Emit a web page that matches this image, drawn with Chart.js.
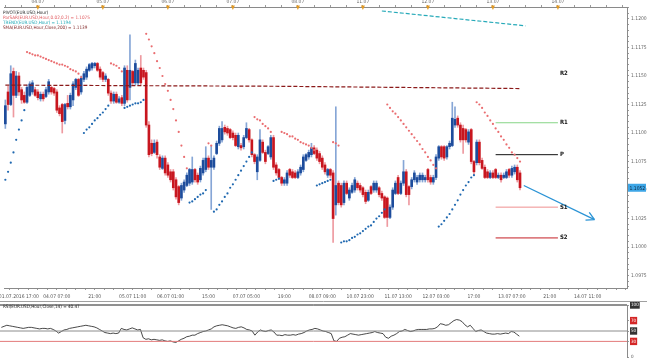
<!DOCTYPE html>
<html>
<head>
<meta charset="utf-8">
<script src="https://cdn.jsdelivr.net/npm/chart.js@4.4.1/dist/chart.umd.min.js"></script>
<style>
  html, body { margin: 0; padding: 0; background: #fff; }
  #wrap { position: relative; width: 647px; height: 360px; overflow: hidden; }
  #priceChart { position: absolute; left: 0; top: 0; }
  #rsiChart { position: absolute; left: 0; top: 300px; }
</style>
</head>
<body>
<div id="wrap">
  <canvas id="priceChart" width="647" height="300"></canvas>
  <canvas id="rsiChart" width="647" height="60"></canvas>
</div>
<script>
// EUR/USD hourly candles, 01.07.2016 12:00 onwards (bar index = hour slot)
const opens = [
  1.1108,1.1136,1.1125,1.1154,1.1133,1.1150,1.1138,1.1133,1.1127,1.1133,
  1.1136,1.1138,1.1136,1.1130,1.1134,1.1132,1.1136,1.1140,1.1139,1.1136,
  1.1122,1.1125,1.1111,1.1126,1.1123,1.1129,1.1140,1.1147,1.1136,1.1147,
  1.1149,1.1155,1.1157,1.1159,1.1161,1.1156,1.1153,1.1147,1.1147,1.1135,
  1.1128,1.1134,1.1127,1.1131,1.1126,1.1155,1.1140,1.1154,1.1144,1.1144,
  1.1157,1.1155,1.1153,1.1107,1.1091,1.1083,1.1092,1.1079,1.1069,1.1078,
  1.1072,1.1066,1.1066,1.1059,1.1053,1.1043,1.1050,1.1054,1.1056,1.1057,
  1.1068,1.1063,1.1059,1.1065,1.1068,1.1078,1.1070,1.1070,1.1082,1.1091,
  1.1094,1.1105,1.1104,1.1103,1.1100,1.1098,1.1088,1.1089,1.1088,1.1096,
  1.1103,1.1094,1.1081,1.1066,1.1076,1.1092,1.1083,1.1082,1.1079,1.1096,
  1.1072,1.1068,1.1061,1.1056,1.1056,1.1068,1.1066,1.1065,1.1061,1.1065,
  1.1068,1.1076,1.1079,1.1081,1.1087,1.1085,1.1082,1.1078,1.1072,1.1063,
  1.1068,1.1065,1.1037,1.1056,1.1054,1.1039,1.1056,1.1043,1.1048,1.1050,
  1.1056,1.1054,1.1052,1.1048,1.1041,1.1053,1.1050,1.1050,1.1052,1.1047,
  1.1044,1.1043,1.1026,1.1035,1.1047,1.1061,1.1047,1.1056,1.1066,1.1053,
  1.1053,1.1059,1.1057,1.1059,1.1059,1.1059,1.1068,1.1061,1.1057,1.1061,
  1.1078,1.1088,1.1088,1.1079,1.1088,1.1089,1.1107,1.1113,1.1107,1.1104,
  1.1103,1.1092,1.1103,1.1075,1.1074,1.1092,1.1076,1.1070,1.1066,1.1061,
  1.1065,1.1068,1.1061,1.1063,1.1061,1.1061,1.1068,1.1063,1.1066,1.1070,1.1065
];
const highs = [
  1.1129,1.1141,1.1159,1.1157,1.1154,1.1153,1.1140,1.1136,1.1142,1.1145,
  1.1146,1.1140,1.1138,1.1136,1.1136,1.1140,1.1147,1.1141,1.1140,1.1138,
  1.1124,1.1126,1.1126,1.1133,1.1135,1.1145,1.1148,1.1148,1.1150,1.1154,
  1.1158,1.1161,1.1162,1.1162,1.1162,1.1158,1.1154,1.1152,1.1148,1.1137,
  1.1136,1.1136,1.1132,1.1133,1.1159,1.1159,1.1186,1.1155,1.1164,1.1157,
  1.1168,1.1157,1.1155,1.1110,1.1094,1.1094,1.1094,1.1081,1.1080,1.1080,
  1.1074,1.1068,1.1068,1.1061,1.1054,1.1056,1.1059,1.1065,1.1069,1.1079,
  1.1069,1.1065,1.1071,1.1078,1.1088,1.1080,1.1089,1.1080,1.1093,1.1106,
  1.1110,1.1107,1.1106,1.1104,1.1102,1.1100,1.1100,1.1091,1.1098,1.1109,
  1.1104,1.1095,1.1082,1.1081,1.1103,1.1094,1.1085,1.1089,1.1098,1.1098,
  1.1074,1.1069,1.1062,1.1061,1.1067,1.1069,1.1068,1.1067,1.1068,1.1072,
  1.1081,1.1082,1.1085,1.1091,1.1089,1.1087,1.1084,1.1080,1.1074,1.1069,
  1.1069,1.1067,1.1123,1.1058,1.1056,1.1058,1.1058,1.1052,1.1056,1.1061,
  1.1058,1.1056,1.1053,1.1050,1.1050,1.1054,1.1058,1.1058,1.1053,1.1049,
  1.1045,1.1044,1.1037,1.1052,1.1058,1.1063,1.1058,1.1076,1.1068,1.1054,
  1.1061,1.1067,1.1063,1.1065,1.1065,1.1063,1.1069,1.1063,1.1063,1.1081,
  1.1089,1.1089,1.1089,1.1089,1.1093,1.1127,1.1123,1.1115,1.1109,1.1107,
  1.1104,1.1103,1.1104,1.1076,1.1094,1.1094,1.1078,1.1072,1.1068,1.1067,
  1.1067,1.1069,1.1065,1.1065,1.1065,1.1068,1.1069,1.1071,1.1072,1.1072,1.1067
];
const lows = [
  1.1104,1.1120,1.1124,1.1114,1.1131,1.1133,1.1126,1.1126,1.1126,1.1132,
  1.1134,1.1132,1.1129,1.1128,1.1128,1.1131,1.1134,1.1134,1.1133,1.1118,
  1.1115,1.1100,1.1108,1.1121,1.1121,1.1124,1.1138,1.1132,1.1134,1.1145,
  1.1147,1.1154,1.1155,1.1157,1.1154,1.1147,1.1145,1.1145,1.1133,1.1126,
  1.1126,1.1126,1.1126,1.1124,1.1124,1.1127,1.1129,1.1142,1.1142,1.1142,
  1.1142,1.1147,1.1105,1.1079,1.1080,1.1082,1.1078,1.1068,1.1068,1.1063,
  1.1061,1.1057,1.1050,1.1042,1.1037,1.1041,1.1048,1.1053,1.1054,1.1055,
  1.1057,1.1055,1.1057,1.1063,1.1066,1.1068,1.1033,1.1068,1.1081,1.1089,
  1.1092,1.1099,1.1098,1.1095,1.1094,1.1088,1.1086,1.1085,1.1086,1.1095,
  1.1092,1.1079,1.1073,1.1059,1.1075,1.1082,1.1073,1.1081,1.1077,1.1068,
  1.1063,1.1059,1.1054,1.1054,1.1054,1.1061,1.1060,1.1060,1.1060,1.1063,
  1.1066,1.1075,1.1077,1.1079,1.1081,1.1076,1.1073,1.1068,1.1064,1.1061,
  1.1061,1.1004,1.1028,1.1037,1.1035,1.1037,1.1046,1.1041,1.1047,1.1048,
  1.1050,1.1048,1.1044,1.1038,1.1040,1.1046,1.1048,1.1048,1.1044,1.1041,
  1.1025,1.1018,1.1025,1.1033,1.1046,1.1046,1.1046,1.1054,1.1044,1.1037,
  1.1051,1.1057,1.1055,1.1057,1.1057,1.1057,1.1057,1.1055,1.1055,1.1059,
  1.1076,1.1077,1.1076,1.1077,1.1086,1.1088,1.1105,1.1105,1.1092,1.1082,
  1.1092,1.1090,1.1073,1.1064,1.1072,1.1072,1.1068,1.1060,1.1060,1.1060,
  1.1060,1.1060,1.1060,1.1057,1.1060,1.1060,1.1061,1.1061,1.1064,1.1057,1.1050
];
const closes = [
  1.1124,1.1125,1.1152,1.1133,1.1150,1.1136,1.1129,1.1127,1.1140,1.1143,
  1.1144,1.1133,1.1131,1.1134,1.1130,1.1138,1.1145,1.1136,1.1135,1.1120,
  1.1117,1.1110,1.1125,1.1123,1.1133,1.1143,1.1147,1.1133,1.1148,1.1152,
  1.1156,1.1160,1.1161,1.1161,1.1155,1.1149,1.1147,1.1150,1.1135,1.1128,
  1.1134,1.1127,1.1130,1.1126,1.1157,1.1129,1.1155,1.1144,1.1161,1.1155,
  1.1144,1.1149,1.1107,1.1081,1.1082,1.1091,1.1081,1.1070,1.1078,1.1065,
  1.1063,1.1059,1.1052,1.1044,1.1039,1.1054,1.1057,1.1063,1.1068,1.1068,
  1.1059,1.1057,1.1069,1.1076,1.1078,1.1070,1.1076,1.1078,1.1091,1.1104,
  1.1104,1.1101,1.1100,1.1096,1.1096,1.1089,1.1098,1.1087,1.1096,1.1104,
  1.1094,1.1081,1.1075,1.1079,1.1094,1.1083,1.1075,1.1088,1.1096,1.1070,
  1.1065,1.1061,1.1056,1.1059,1.1065,1.1063,1.1061,1.1061,1.1066,1.1070,
  1.1079,1.1081,1.1083,1.1087,1.1082,1.1078,1.1075,1.1070,1.1066,1.1068,
  1.1063,1.1025,1.1054,1.1039,1.1037,1.1056,1.1047,1.1050,1.1054,1.1059,
  1.1052,1.1050,1.1046,1.1040,1.1048,1.1047,1.1056,1.1056,1.1046,1.1043,
  1.1026,1.1026,1.1035,1.1050,1.1056,1.1047,1.1056,1.1066,1.1046,1.1046,
  1.1059,1.1065,1.1061,1.1063,1.1063,1.1061,1.1059,1.1057,1.1061,1.1079,
  1.1088,1.1079,1.1078,1.1088,1.1091,1.1113,1.1112,1.1107,1.1094,1.1094,
  1.1094,1.1101,1.1075,1.1066,1.1092,1.1074,1.1069,1.1061,1.1061,1.1065,
  1.1061,1.1061,1.1063,1.1059,1.1063,1.1066,1.1063,1.1069,1.1070,1.1059,1.1052
];

// Parabolic SAR runs: [first bar, values...]
const sarAbove = [
  [8, [1.1171,1.1170,1.1169,1.1168,1.1168,1.1167,1.1166,1.1165,1.1164,1.1163,1.1162,
       1.1161,1.1160,1.1160,1.1159,1.1158,1.1156,1.1155,1.1154,1.1152,1.1149]],
  [39, [1.1161,1.1160,1.1159,1.1157,1.1154]],
  [52, [1.1187,1.1182,1.1176,1.1170,1.1163,1.1157,1.1150,1.1143,1.1137,1.1129,1.1121,
        1.1111,1.1101,1.1089,1.1079,1.1069]],
  [75, [1.1091,1.1089]],
  [92, [1.1114,1.1112,1.1111,1.1108,1.1106,1.1104,1.1101]],
  [102, [1.1101,1.1100,1.1099,1.1097,1.1097,1.1095,1.1094,1.1092,1.1091,1.1090,1.1089,1.1087,1.1085]],
  [121, [1.1092,1.1091,1.1089]],
  [141, [1.1125,1.1122,1.1119,1.1117,1.1114,1.1111,1.1108,1.1105,1.1102,1.1099,1.1096,
         1.1093,1.1090,1.1086,1.1083,1.1079,1.1076,1.1072,1.1069]],
  [174, [1.1127,1.1125,1.1122,1.1118,1.1115,1.1111,1.1108,1.1104,1.1101,1.1097,1.1094,
         1.1090,1.1087,1.1083,1.1081,1.1078,1.1075]]
];
const sarBelow = [
  [0, [1.1059,1.1066,1.1074,1.1083,1.1094,1.1103,1.1111,1.1120]],
  [29, [1.1100,1.1103,1.1105,1.1108,1.1111,1.1113,1.1116,1.1118,1.1121,1.1124]],
  [44, [1.1122,1.1123,1.1124,1.1125,1.1126,1.1126,1.1127,1.1129]],
  [68, [1.1039,1.1040,1.1042,1.1044,1.1046,1.1047,1.1050]],
  [77, [1.1031,1.1033,1.1037,1.1040,1.1044,1.1047,1.1052,1.1055,1.1059,1.1063,1.1067,
        1.1071,1.1075,1.1079,1.1083]],
  [99, [1.1058,1.1059,1.1060]],
  [115, [1.1054,1.1055,1.1056,1.1057,1.1058,1.1059]],
  [124, [1.1004,1.1005,1.1005,1.1006,1.1008,1.1009,1.1011,1.1012,1.1014,1.1016,1.1018,
         1.1019,1.1022,1.1025,1.1027,1.1030,1.1033]],
  [160, [1.1018,1.1020,1.1023,1.1026,1.1029,1.1033,1.1037,1.1041,1.1046,1.1050,1.1054,
         1.1057,1.1061,1.1063]]
];

const smaLine = [[0, 1.1142], [100, 1.1141], [190, 1.1139]];
const trendLine = [[139, 1.1207], [192, 1.1194]];
const arrowLine = [[191.4, 1.1054], [217.5, 1.1024]];

const pivotNames = ["R2", "R1", "P", "S1", "S2"];
const pivotLevels = [1.1152, 1.1109, 1.1081, 1.1035, 1.1008];
const pivotColors = ["rgba(0,0,0,0)", "#86d586", "#111111", "#ef8f8f", "#c41f25"];
const pivotSpan = [181, 204];

const rsiValues = [
  57,59,61,60,59,58,57,56,55,56, 57,57,56,55,54,55,55,54,55,53,
  50,46,49,52,53,55,56,57,58,59, 60,61,60,59,58,56,53,50,47,46,
  45,46,45,46,55,53,52,54,56,54, 52,53,37,34,35,33,34,33,32,33,
  31,30,31,29,28,31,34,36,39,40, 42,42,45,47,49,50,52,54,58,60,
  61,62,61,60,58,56,55,57,58,56, 53,52,50,42,48,52,50,49,51,52,
  48,42,42,41,43,42,42,43,42,44, 45,47,50,52,53,55,54,52,50,49,
  47,45,31,30,36,38,39,42,45,44, 43,42,43,44,45,46,47,49,47,46,
  45,38,36,40,42,45,49,50,53,51, 49,50,52,53,53,53,53,54,54,55,
  58,64,63,61,62,66,70,72,71,68, 62,58,61,55,49,51,52,49,46,45,
  44,44,45,44,45,46,45,49,48,44,40
];
const rsiLevels = [0, 30, 50, 70, 100];

const timeTickBars = [5, 19, 33, 47, 61, 75, 89, 103, 117, 131, 145, 159, 173, 187, 201, 215];
const timeTickLabels = ["01.07.2016 17:00", "04.07 07:00", "21:00", "05.07 11:00", "06.07 01:00", "15:00",
  "07.07 05:00", "19:00", "08.07 09:00", "10.07 23:00", "11.07 13:00", "12.07 03:00", "17:00",
  "13.07 07:00", "21:00", "14.07 11:00"];
const dayTickBars = [12, 36, 60, 84, 108, 132, 156, 180, 204];
const dayTickLabels = ["04.07", "05.07", "06.07", "07.07", "08.07", "11.07", "12.07", "13.07", "14.07"];
const priceLabels = [1.0975, 1.1000, 1.1025, 1.1050, 1.1075, 1.1100, 1.1125, 1.1150, 1.1175, 1.1200];

const legendLines = [
  ["PIVOT(EUR.USD,Hour)", "#222222"],
  ["ParSAR(EUR.USD,Hour,0.02,0.2) = 1.1075", "#e0555a"],
  ["TREND(EUR.USD,Hour) = 1.1194", "#1ea7b5"],
  ["SMA(EUR.USD,Hour,Close,200) = 1.1139", "#7a1c1c"]
];

const X_MIN = -0.5, X_MAX = 229.5;
const Y_MIN = 1.09641, Y_MAX = 1.12105;
const BULL = "#1d4c9c", BEAR = "#c8161f";
const BULL_WICK = "#86a6d6", BEAR_WICK = "#ee9aa0";
const ARROW = "#2a93d5";
const FONT = '"DejaVu Sans Condensed", "DejaVu Sans", sans-serif';

Chart.defaults.font.family = FONT;
Chart.defaults.font.size = 5;

const up = closes.map((c, i) => c >= opens[i]);
const runPoints = (runs) => {
  const pts = [];
  runs.forEach(([start, vals]) => vals.forEach((v, k) => pts.push({ x: start + k, y: v })));
  return pts;
};
const pairPoints = (pairs) => pairs.map(([x, y]) => ({ x, y }));

const lineDs = (data, color, extra = {}) => Object.assign({
  type: "line", data, borderColor: color, borderWidth: 1, pointRadius: 0, fill: false, tension: 0
}, extra);
const dotDs = (data, color) => ({
  type: "line", data, showLine: false, pointRadius: 1.1, pointBorderWidth: 0,
  pointBackgroundColor: color, order: 1
});

const pivotDatasets = pivotLevels.map((lvl, i) =>
  lineDs([{ x: pivotSpan[0], y: lvl }, { x: pivotSpan[1], y: lvl }], pivotColors[i], { order: 2 }));

const datasets = [
  {
    type: "bar", data: highs.map((h, i) => ({ x: i, y: [lows[i], h] })),
    backgroundColor: up.map((u) => (u ? BULL_WICK : BEAR_WICK)),
    barThickness: 1, grouped: false, order: 6
  },
  {
    type: "bar", data: opens.map((o, i) => ({ x: i, y: [o, closes[i]] })),
    backgroundColor: up.map((u) => (u ? BULL : BEAR)),
    barThickness: 2, minBarLength: 1, grouped: false, order: 5
  },
  lineDs(pairPoints(smaLine), "#8b1a1a", { borderDash: [4, 2], borderWidth: 1.2, order: 3 }),
  lineDs(pairPoints(trendLine), "#27aab9", { borderDash: [4, 2], borderWidth: 1.2, order: 3 }),
  dotDs(runPoints(sarAbove), "#ea6d70"),
  dotDs(runPoints(sarBelow), "#1f68b0"),
  ...pivotDatasets,
  lineDs(pairPoints(arrowLine), ARROW, { borderWidth: 1.3, order: 0 })
];
const ARROW_INDEX = datasets.length - 1;

const overlay = {
  id: "overlay",
  afterDatasetsDraw(chart) {
    const { ctx, scales: { x, y } } = chart;
    const pts = chart.getDatasetMeta(ARROW_INDEX).data;
    const a = pts[0], b = pts[1];
    const ang = Math.atan2(b.y - a.y, b.x - a.x);
    ctx.save();
    ctx.strokeStyle = ARROW;
    ctx.lineWidth = 1.3;
    ctx.beginPath();
    [-0.5, 0.5].forEach((s) => {
      ctx.moveTo(b.x, b.y);
      ctx.lineTo(b.x - 9 * Math.cos(ang + s), b.y - 9 * Math.sin(ang + s));
    });
    ctx.stroke();

    ctx.font = "bold 6px " + FONT;
    ctx.fillStyle = "#111";
    ctx.textBaseline = "middle";
    pivotNames.forEach((n, i) => {
      ctx.fillText(n, x.getPixelForValue(pivotSpan[1]) + 2, y.getPixelForValue(pivotLevels[i]));
    });
    ctx.restore();
  },
  afterDraw(chart) {
    const { ctx, scales: { y, xTop } } = chart;
    ctx.save();
    ctx.font = "4.6px " + FONT;
    ctx.textBaseline = "middle";
    legendLines.forEach(([t, c], i) => {
      ctx.fillStyle = c;
      ctx.fillText(t, 3, 13 + i * 5);
    });

    // day markers on the top axis
    ctx.fillStyle = "#e39a22";
    dayTickBars.forEach((d) => {
      const px = xTop.getPixelForValue(d);
      ctx.beginPath();
      ctx.moveTo(px - 2, 5.5);
      ctx.lineTo(px + 2, 5.5);
      ctx.lineTo(px, 10);
      ctx.closePath();
      ctx.fill();
    });

    // last price marker
    const last = closes[closes.length - 1];
    const py = y.getPixelForValue(last);
    ctx.fillStyle = "#3ea6e6";
    ctx.fillRect(628, py - 4, 18, 8);
    ctx.fillStyle = "#0d2740";
    ctx.font = "5px " + FONT;
    ctx.fillText(last.toFixed(4), 629.5, py + 0.5);
    ctx.restore();
  }
};

new Chart(document.getElementById("priceChart"), {
  type: "bar",
  data: { datasets },
  options: {
    responsive: false,
    animation: false,
    events: [],
    layout: { padding: 0 },
    plugins: { legend: { display: false }, tooltip: { enabled: false } },
    scales: {
      x: {
        type: "linear", axis: "x", position: "bottom", min: X_MIN, max: X_MAX, offset: false,
        grid: { drawOnChartArea: false, drawTicks: true, tickLength: 2, color: "#9a9a9a", offset: false },
        border: { color: "#8a8a8a" },
        ticks: {
          autoSkip: false, maxRotation: 0, padding: 4, color: "#555", font: { size: 5 },
          callback: (v) => {
            const k = timeTickBars.indexOf(v);
            return k >= 0 ? timeTickLabels[k] : "";
          }
        },
        afterBuildTicks: (s) => {
          const vals = [];
          for (let v = 1.5; v <= X_MAX; v += 3.5) vals.push(v);
          s.ticks = vals.map((v) => ({ value: v }));
        },
        afterFit: (s) => { s.height = 12; s.paddingLeft = 0; s.paddingRight = 0; }
      },
      xTop: {
        type: "linear", axis: "x", position: "top", min: X_MIN, max: X_MAX, offset: false,
        grid: { drawOnChartArea: false, drawTicks: true, tickLength: 2, color: "#9a9a9a", offset: false },
        border: { color: "#8a8a8a" },
        ticks: {
          autoSkip: false, maxRotation: 0, padding: 0, color: "#666", font: { size: 5 },
          callback: (v) => {
            const k = dayTickBars.indexOf(v);
            return k >= 0 ? dayTickLabels[k] : "";
          }
        },
        afterBuildTicks: (s) => {
          const vals = [];
          for (let v = 0; v <= X_MAX; v += 6) vals.push(v);
          s.ticks = vals.map((v) => ({ value: v }));
        },
        afterFit: (s) => { s.height = 7; s.paddingLeft = 0; s.paddingRight = 0; }
      },
      y: {
        type: "linear", position: "right", min: Y_MIN, max: Y_MAX, beginAtZero: false,
        grid: { drawOnChartArea: false, drawTicks: true, tickLength: 2, color: "#9a9a9a" },
        border: { color: "#8a8a8a" },
        ticks: {
          autoSkip: false, padding: 2, color: "#666", font: { size: 5 },
          callback: (v) => {
            const p = priceLabels.find((q) => Math.abs(q - v) < 1e-7);
            return p ? p.toFixed(4) : "";
          }
        },
        afterBuildTicks: (s) => {
          const vals = [];
          for (let k = 10965; k <= 11210; k += 5) vals.push(k / 10000);
          s.ticks = vals.map((v) => ({ value: v }));
        },
        afterFit: (s) => { s.width = 20; s.paddingTop = 0; s.paddingBottom = 0; }
      }
    }
  },
  plugins: [overlay]
});

// RSI panel
const rsiLevelColor = { 100: "#333333", 70: "#d42626", 50: "#333333", 30: "#d42626", 0: "rgba(0,0,0,0)" };
const levelLine = (v, color) => lineDs([{ x: X_MIN, y: v }, { x: X_MAX, y: v }], color, { clip: false });

const rsiOverlay = {
  id: "rsiOverlay",
  afterDraw(chart) {
    const { ctx } = chart;
    ctx.save();
    ctx.strokeStyle = "#a0a0a0";
    ctx.lineWidth = 1;
    ctx.beginPath();
    ctx.moveTo(0, 1.5);
    ctx.lineTo(647, 1.5);
    ctx.stroke();
    ctx.font = "4.6px " + FONT;
    ctx.fillStyle = "#222";
    ctx.textBaseline = "middle";
    ctx.fillText("RSI(EUR.USD,Hour,Close,14) = 40.47", 3, 6.5);
    ctx.restore();
  }
};

new Chart(document.getElementById("rsiChart"), {
  type: "line",
  data: {
    datasets: [
      levelLine(100, "#222222"),
      levelLine(50, "#8c8c8c"),
      levelLine(30, "#e37b7b"),
      lineDs(rsiValues.map((v, i) => ({ x: i, y: v })), "#1a1a1a", { borderWidth: 0.8 })
    ]
  },
  options: {
    responsive: false,
    animation: false,
    events: [],
    layout: { padding: { top: 5, bottom: 3, left: 0, right: 0 } },
    plugins: { legend: { display: false }, tooltip: { enabled: false } },
    scales: {
      x: { type: "linear", min: X_MIN, max: X_MAX, display: false },
      y: {
        position: "right", min: 0, max: 100,
        grid: { drawOnChartArea: false, drawTicks: true, tickLength: 2, color: "#9a9a9a" },
        border: { color: "#8a8a8a" },
        ticks: {
          autoSkip: false, padding: 2, font: { size: 4.5 },
          color: (c) => (c.tick && c.tick.value === 0 ? "#555" : "#fff"),
          showLabelBackdrop: true,
          backdropPadding: 1,
          backdropColor: (c) => (c.tick ? rsiLevelColor[c.tick.value] : "rgba(0,0,0,0)")
        },
        afterBuildTicks: (s) => { s.ticks = rsiLevels.map((v) => ({ value: v })); },
        afterFit: (s) => { s.width = 20; s.paddingTop = 0; s.paddingBottom = 0; }
      }
    }
  },
  plugins: [rsiOverlay]
});
</script>
</body>
</html>
